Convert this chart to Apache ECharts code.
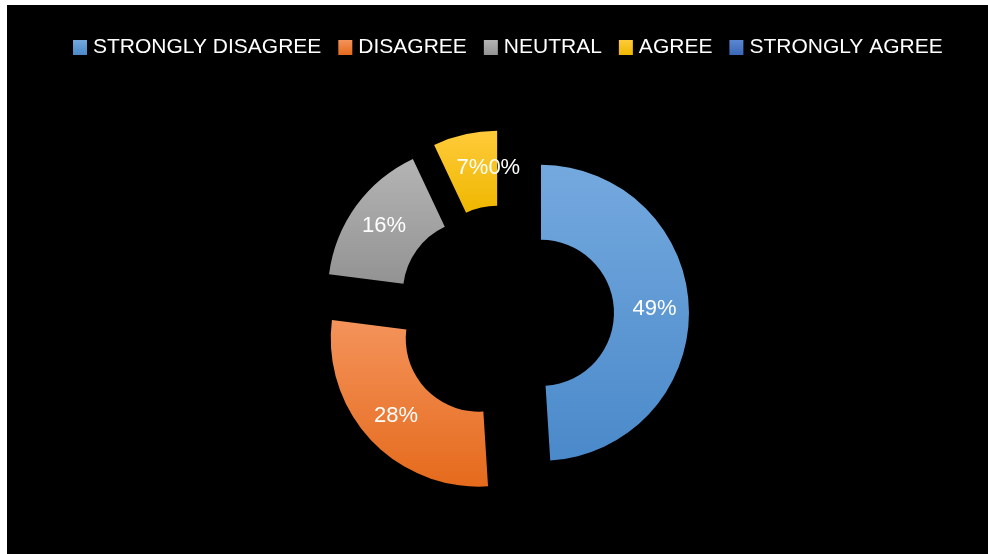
<!DOCTYPE html>
<html>
<head>
<meta charset="utf-8">
<script src="https://cdn.jsdelivr.net/npm/echarts@6/dist/echarts.min.js"></script>
<style>
  html, body { margin: 0; padding: 0; background: #ffffff; }
  #chart { position: absolute; left: 7px; top: 5px; width: 981px; height: 549px; background: #000000; }
</style>
</head>
<body>
<div id="chart"></div>
<script>
// Survey responses (percent of respondents)
const categories = ['STRONGLY DISAGREE', 'DISAGREE', 'NEUTRAL', 'AGREE', 'STRONGLY AGREE'];
const values = [49, 28, 16, 7, 0];

// Top/bottom shades for each slice's vertical gradient
const colorTop = ['#74a9de', '#f4935b', '#b4b4b4', '#ffcb3a', '#5a86d2'];
const colorBottom = ['#4a89ca', '#e56a1c', '#939393', '#efb700', '#3b67b8'];

function grad(i) {
  return new echarts.graphic.LinearGradient(0, 0, 0, 1, [
    { offset: 0, color: colorTop[i] },
    { offset: 1, color: colorBottom[i] }
  ]);
}

// Zero-value categories have no sector of their own, so their labels are
// appended to the label of the preceding non-empty sector.
function trailingZeroLabels(i) {
  let s = '';
  for (let j = i + 1; j < values.length && values[j] === 0; j++) s += values[j] + '%';
  return s;
}

const chart = echarts.init(document.getElementById('chart'), null, { renderer: 'canvas' });

const data = categories.map((name, i) => {
  const item = {
    name: name,
    value: values[i],
    selected: true,
    itemStyle: { color: grad(i) }
  };
  const extra = values[i] > 0 ? trailingZeroLabels(i) : '';
  if (extra) {
    // left padding pushes the combined text toward the sector edge
    item.label = { formatter: '{c}%' + extra, padding: [0, 0, 0, 32] };
  }
  return item;
});

chart.setOption({
  backgroundColor: '#000000',
  animation: false,
  legend: {
    left: 61,
    top: 27,
    itemWidth: 14,
    itemHeight: 15,
    itemGap: 17,
    icon: 'rect',
    selectedMode: false,
    textStyle: {
      color: '#ffffff',
      fontFamily: 'Liberation Sans, Arial, sans-serif',
      fontSize: 21,
      padding: [0, 0, 0, 1]
    },
    data: categories
  },
  series: [{
    type: 'pie',
    center: [498, 309],
    radius: [73, 148],
    startAngle: 90,
    clockwise: true,
    selectedMode: 'multiple',
    selectedOffset: 36,
    avoidLabelOverlap: false,
    minShowLabelAngle: 0,
    emphasis: { disabled: true },
    select: { itemStyle: { borderWidth: 0 } },
    itemStyle: { borderWidth: 0 },
    label: {
      show: true,
      position: 'inside',
      formatter: '{c}%',
      color: '#ffffff',
      fontFamily: 'Liberation Sans, Arial, sans-serif',
      fontSize: 22,
      textBorderWidth: 0
    },
    labelLine: { show: false },
    data: data
  }]
});
</script>
</body>
</html>
